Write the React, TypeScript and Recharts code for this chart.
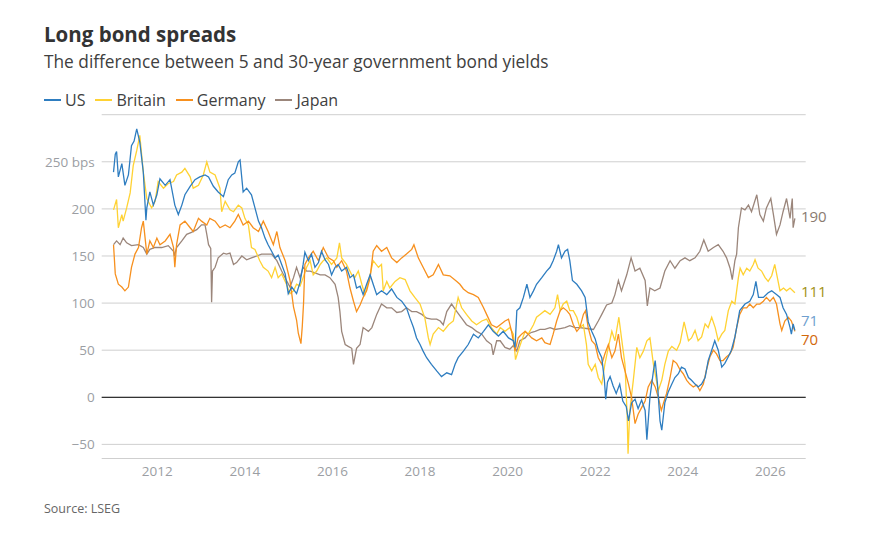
import { LineChart, Line, XAxis, YAxis, CartesianGrid, ReferenceLine } from 'recharts';

const FONT = '"Open Sans", "Noto Sans", sans-serif';

const YEAR_TICKS = [2012, 2014, 2016, 2018, 2020, 2022, 2024, 2026];
const BPS_TICKS = [-50, 0, 50, 100, 150, 200, 250];

// [year, 30y minus 5y spread in bps]
const US_SPREAD: [number, number][] = [
  [2011.0, 239], [2011.04, 258], [2011.07, 261], [2011.11, 234], [2011.19, 248], [2011.26, 225], [2011.34, 236],
  [2011.41, 267], [2011.47, 272], [2011.53, 285], [2011.6, 271], [2011.68, 239], [2011.74, 188], [2011.76, 201],
  [2011.83, 218], [2011.91, 204], [2011.99, 215], [2012.06, 232], [2012.18, 225], [2012.29, 231], [2012.4, 204],
  [2012.48, 194], [2012.56, 204], [2012.63, 215], [2012.75, 224], [2012.86, 231], [2012.97, 234], [2013.09, 236],
  [2013.17, 234], [2013.28, 224], [2013.39, 218], [2013.51, 213], [2013.62, 231], [2013.7, 236], [2013.77, 238],
  [2013.85, 250], [2013.89, 252], [2013.96, 218], [2014.04, 222], [2014.15, 215], [2014.23, 201], [2014.31, 187],
  [2014.38, 180], [2014.46, 169], [2014.53, 162], [2014.61, 155], [2014.69, 148], [2014.76, 151], [2014.84, 141],
  [2014.92, 131], [2014.99, 110], [2015.07, 117], [2015.18, 110], [2015.26, 122], [2015.33, 141], [2015.37, 154],
  [2015.45, 145], [2015.52, 152], [2015.6, 138], [2015.68, 143], [2015.75, 155], [2015.83, 146], [2015.91, 141],
  [2015.98, 130], [2016.06, 138], [2016.13, 141], [2016.21, 134], [2016.32, 138], [2016.4, 127], [2016.48, 130],
  [2016.55, 116], [2016.63, 118], [2016.7, 109], [2016.78, 120], [2016.86, 130], [2016.93, 120], [2017.01, 109],
  [2017.12, 113], [2017.24, 109], [2017.35, 115], [2017.47, 106], [2017.58, 102], [2017.69, 95], [2017.77, 84],
  [2017.85, 74], [2017.92, 63], [2018.0, 56], [2018.07, 49], [2018.15, 42], [2018.26, 35], [2018.38, 28],
  [2018.49, 22], [2018.61, 26], [2018.72, 24], [2018.8, 35], [2018.87, 42], [2018.99, 49], [2019.1, 56],
  [2019.22, 67], [2019.33, 63], [2019.45, 70], [2019.56, 77], [2019.67, 70], [2019.79, 65], [2019.9, 70],
  [2020.02, 63], [2020.13, 60], [2020.17, 53], [2020.21, 92], [2020.28, 95], [2020.36, 106], [2020.44, 120],
  [2020.51, 106], [2020.59, 113], [2020.66, 120], [2020.78, 127], [2020.89, 134], [2020.97, 138], [2021.04, 145],
  [2021.12, 155], [2021.16, 162], [2021.23, 148], [2021.31, 155], [2021.37, 157], [2021.42, 145], [2021.48, 124],
  [2021.58, 120], [2021.69, 113], [2021.77, 106], [2021.84, 80], [2021.92, 70], [2022.0, 62], [2022.07, 50],
  [2022.15, 42], [2022.21, 18], [2022.24, -2], [2022.28, 16], [2022.34, 22], [2022.41, 12], [2022.48, 4],
  [2022.56, 14], [2022.63, -4], [2022.71, -10], [2022.76, -25], [2022.83, -6], [2022.91, -2], [2022.98, -12],
  [2023.06, -3], [2023.14, -14], [2023.18, -45], [2023.25, 0], [2023.33, 28], [2023.37, 39], [2023.42, 15],
  [2023.48, -25], [2023.52, -35], [2023.59, -6], [2023.67, 6], [2023.75, 14], [2023.82, 21], [2023.9, 25],
  [2023.97, 32], [2024.05, 30], [2024.13, 21], [2024.2, 18], [2024.28, 14], [2024.35, 11], [2024.43, 14],
  [2024.51, 21], [2024.58, 39], [2024.66, 50], [2024.73, 60], [2024.81, 50], [2024.89, 32], [2024.96, 36],
  [2025.04, 43], [2025.11, 50], [2025.19, 64], [2025.23, 74], [2025.3, 92], [2025.42, 99], [2025.53, 102],
  [2025.61, 109], [2025.67, 123], [2025.73, 106], [2025.84, 106], [2025.95, 111], [2026.03, 113], [2026.14, 109],
  [2026.22, 106], [2026.29, 95], [2026.37, 88], [2026.45, 74], [2026.48, 67], [2026.52, 78], [2026.56, 71],
];

const BRITAIN_SPREAD: [number, number][] = [
  [2011.0, 199], [2011.07, 210], [2011.11, 180], [2011.19, 194], [2011.22, 187], [2011.3, 201], [2011.38, 217],
  [2011.45, 246], [2011.53, 262], [2011.6, 278], [2011.68, 239], [2011.76, 211], [2011.87, 201], [2011.95, 208],
  [2012.02, 229], [2012.14, 222], [2012.25, 227], [2012.37, 229], [2012.44, 236], [2012.56, 239], [2012.63, 243],
  [2012.75, 234], [2012.82, 222], [2012.94, 225], [2013.05, 236], [2013.13, 250], [2013.2, 239], [2013.32, 236],
  [2013.43, 222], [2013.47, 197], [2013.55, 208], [2013.66, 199], [2013.74, 197], [2013.85, 204], [2013.93, 201],
  [2014.0, 190], [2014.08, 183], [2014.15, 159], [2014.23, 157], [2014.34, 145], [2014.42, 138], [2014.53, 134],
  [2014.61, 127], [2014.69, 138], [2014.76, 127], [2014.84, 131], [2014.95, 120], [2015.03, 110], [2015.11, 113],
  [2015.18, 120], [2015.26, 118], [2015.33, 127], [2015.41, 138], [2015.49, 145], [2015.56, 130], [2015.64, 134],
  [2015.72, 141], [2015.79, 145], [2015.87, 148], [2015.98, 141], [2016.1, 148], [2016.16, 164], [2016.21, 148],
  [2016.32, 141], [2016.44, 130], [2016.51, 127], [2016.59, 134], [2016.67, 120], [2016.74, 109], [2016.86, 130],
  [2016.93, 145], [2017.05, 138], [2017.12, 141], [2017.16, 113], [2017.24, 123], [2017.31, 116], [2017.43, 123],
  [2017.54, 127], [2017.66, 125], [2017.77, 113], [2017.88, 106], [2018.0, 99], [2018.11, 84], [2018.19, 63],
  [2018.23, 56], [2018.3, 67], [2018.42, 74], [2018.53, 70], [2018.65, 77], [2018.76, 81], [2018.87, 106],
  [2018.95, 95], [2019.06, 88], [2019.18, 81], [2019.29, 77], [2019.41, 81], [2019.52, 83], [2019.63, 74],
  [2019.75, 67], [2019.83, 74], [2019.94, 70], [2020.05, 74], [2020.13, 67], [2020.18, 40], [2020.24, 49],
  [2020.32, 60], [2020.4, 70], [2020.47, 67], [2020.59, 77], [2020.66, 85], [2020.74, 88], [2020.85, 92],
  [2020.97, 88], [2021.08, 95], [2021.14, 109], [2021.2, 92], [2021.27, 99], [2021.35, 102], [2021.42, 92],
  [2021.5, 92], [2021.58, 85], [2021.65, 74], [2021.73, 77], [2021.8, 56], [2021.84, 35], [2021.92, 28],
  [2022.0, 35], [2022.07, 21], [2022.15, 14], [2022.22, 35], [2022.3, 53], [2022.38, 70], [2022.45, 60],
  [2022.54, 85], [2022.6, 63], [2022.68, 35], [2022.73, -20], [2022.75, -60], [2022.79, -14], [2022.87, 18],
  [2022.95, 53], [2023.02, 42], [2023.1, 49], [2023.18, 60], [2023.25, 63], [2023.33, 35], [2023.44, 7],
  [2023.52, 18], [2023.59, 35], [2023.67, 49], [2023.75, 54], [2023.86, 50], [2023.94, 58], [2024.03, 80],
  [2024.13, 60], [2024.2, 63], [2024.28, 71], [2024.35, 60], [2024.43, 64], [2024.51, 78], [2024.58, 74],
  [2024.66, 85], [2024.74, 74], [2024.81, 60], [2024.89, 67], [2024.96, 71], [2025.04, 92], [2025.12, 102],
  [2025.19, 99], [2025.27, 127], [2025.31, 137], [2025.38, 130], [2025.46, 137], [2025.53, 134], [2025.61, 141],
  [2025.65, 146], [2025.72, 137], [2025.8, 134], [2025.88, 127], [2025.95, 123], [2026.03, 129], [2026.1, 141],
  [2026.16, 127], [2026.22, 113], [2026.3, 116], [2026.37, 113], [2026.45, 116], [2026.56, 111],
];

const GERMANY_SPREAD: [number, number][] = [
  [2011.0, 162], [2011.04, 131], [2011.11, 120], [2011.19, 117], [2011.26, 113], [2011.34, 117], [2011.41, 138],
  [2011.49, 152], [2011.57, 159], [2011.64, 180], [2011.68, 187], [2011.76, 152], [2011.83, 166], [2011.91, 159],
  [2011.99, 169], [2012.06, 162], [2012.18, 166], [2012.29, 173], [2012.37, 159], [2012.4, 138], [2012.44, 162],
  [2012.52, 183], [2012.63, 187], [2012.75, 180], [2012.82, 176], [2012.94, 190], [2013.01, 187], [2013.13, 183],
  [2013.2, 190], [2013.32, 187], [2013.43, 180], [2013.55, 183], [2013.66, 180], [2013.77, 187], [2013.85, 194],
  [2013.96, 183], [2014.08, 187], [2014.19, 180], [2014.31, 176], [2014.42, 187], [2014.53, 176], [2014.65, 162],
  [2014.73, 176], [2014.8, 159], [2014.92, 145], [2015.03, 124], [2015.11, 96], [2015.18, 82], [2015.22, 68],
  [2015.28, 57], [2015.31, 75], [2015.34, 100], [2015.37, 141], [2015.45, 148], [2015.56, 155], [2015.68, 145],
  [2015.79, 159], [2015.91, 148], [2016.02, 145], [2016.1, 138], [2016.21, 145], [2016.32, 134], [2016.4, 116],
  [2016.48, 102], [2016.55, 91], [2016.63, 98], [2016.7, 106], [2016.78, 113], [2016.86, 127], [2016.93, 155],
  [2017.01, 161], [2017.12, 155], [2017.24, 159], [2017.35, 148], [2017.47, 143], [2017.58, 148], [2017.69, 152],
  [2017.81, 157], [2017.86, 162], [2017.96, 148], [2018.07, 138], [2018.19, 127], [2018.3, 130], [2018.42, 141],
  [2018.53, 130], [2018.68, 129], [2018.84, 123], [2018.91, 120], [2018.99, 115], [2019.1, 111], [2019.22, 109],
  [2019.33, 106], [2019.45, 95], [2019.52, 88], [2019.63, 77], [2019.75, 74], [2019.83, 77], [2019.94, 81],
  [2020.02, 83], [2020.09, 70], [2020.17, 49], [2020.24, 63], [2020.32, 67], [2020.4, 70], [2020.47, 67],
  [2020.55, 63], [2020.66, 60], [2020.78, 63], [2020.85, 58], [2020.97, 56], [2021.04, 67], [2021.12, 81],
  [2021.2, 92], [2021.27, 95], [2021.35, 92], [2021.42, 88], [2021.5, 77], [2021.58, 70], [2021.65, 74],
  [2021.73, 88], [2021.78, 92], [2021.84, 74], [2021.92, 60], [2022.0, 56], [2022.07, 42], [2022.15, 35],
  [2022.22, 46], [2022.3, 56], [2022.38, 42], [2022.45, 49], [2022.53, 67], [2022.6, 42], [2022.68, 28],
  [2022.76, 14], [2022.83, 0], [2022.91, -28], [2022.98, -18], [2023.06, -11], [2023.14, -4], [2023.21, 11],
  [2023.29, 18], [2023.37, 11], [2023.44, 0], [2023.51, -14], [2023.56, -6], [2023.63, 4], [2023.71, 21],
  [2023.78, 39], [2023.86, 36], [2023.94, 29], [2024.01, 25], [2024.09, 18], [2024.16, 14], [2024.24, 11],
  [2024.32, 13], [2024.39, 7], [2024.47, 14], [2024.54, 29], [2024.62, 43], [2024.7, 50], [2024.77, 46],
  [2024.85, 39], [2024.92, 39], [2025.0, 43], [2025.08, 46], [2025.15, 53], [2025.23, 74], [2025.3, 88],
  [2025.38, 95], [2025.46, 95], [2025.53, 99], [2025.61, 95], [2025.69, 99], [2025.76, 99], [2025.84, 102],
  [2025.91, 106], [2025.99, 102], [2026.07, 106], [2026.14, 99], [2026.22, 78], [2026.26, 71], [2026.33, 81],
  [2026.41, 85], [2026.48, 81], [2026.56, 70],
];

const JAPAN_SPREAD: [number, number][] = [
  [2011.0, 162], [2011.07, 166], [2011.15, 162], [2011.22, 169], [2011.3, 164], [2011.41, 161], [2011.57, 162],
  [2011.68, 159], [2011.76, 152], [2011.83, 157], [2011.95, 159], [2012.1, 159], [2012.25, 161], [2012.37, 155],
  [2012.39, 150], [2012.44, 159], [2012.56, 166], [2012.67, 173], [2012.78, 175], [2012.9, 178], [2013.01, 183],
  [2013.09, 183], [2013.13, 173], [2013.17, 162], [2013.22, 158], [2013.24, 101], [2013.26, 134], [2013.32, 138],
  [2013.39, 148], [2013.51, 153], [2013.58, 152], [2013.66, 153], [2013.74, 141], [2013.81, 143], [2013.93, 150],
  [2014.04, 146], [2014.15, 148], [2014.27, 150], [2014.38, 152], [2014.5, 152], [2014.61, 152], [2014.73, 145],
  [2014.84, 134], [2014.95, 124], [2015.03, 117], [2015.11, 127], [2015.18, 138], [2015.26, 127], [2015.33, 138],
  [2015.41, 134], [2015.49, 134], [2015.6, 132], [2015.72, 130], [2015.83, 130], [2015.94, 127], [2016.06, 120],
  [2016.13, 106], [2016.17, 91], [2016.21, 70], [2016.29, 56], [2016.36, 54], [2016.44, 52], [2016.48, 35],
  [2016.55, 52], [2016.63, 56], [2016.7, 74], [2016.82, 70], [2016.9, 74], [2017.01, 88], [2017.12, 99],
  [2017.24, 95], [2017.35, 95], [2017.47, 90], [2017.58, 91], [2017.69, 95], [2017.81, 91], [2017.92, 91],
  [2018.04, 88], [2018.15, 84], [2018.26, 83], [2018.38, 83], [2018.46, 81], [2018.53, 77], [2018.61, 91],
  [2018.72, 99], [2018.84, 91], [2018.95, 84], [2019.06, 77], [2019.18, 74], [2019.29, 70], [2019.41, 67],
  [2019.52, 60], [2019.63, 56], [2019.67, 45], [2019.75, 60], [2019.83, 60], [2019.94, 53], [2020.05, 51],
  [2020.13, 55], [2020.21, 49], [2020.28, 60], [2020.4, 63], [2020.47, 67], [2020.55, 69], [2020.63, 70],
  [2020.74, 72], [2020.85, 72], [2020.97, 74], [2021.08, 72], [2021.2, 73], [2021.31, 74], [2021.42, 76],
  [2021.54, 74], [2021.65, 74], [2021.8, 73], [2021.96, 72], [2022.07, 81], [2022.15, 88], [2022.26, 98],
  [2022.38, 100], [2022.45, 109], [2022.53, 124], [2022.6, 113], [2022.72, 130], [2022.82, 148], [2022.91, 134],
  [2023.02, 137], [2023.14, 124], [2023.19, 97], [2023.25, 116], [2023.36, 113], [2023.48, 116], [2023.59, 134],
  [2023.71, 145], [2023.82, 137], [2023.94, 145], [2024.05, 148], [2024.16, 145], [2024.28, 148], [2024.39, 155],
  [2024.48, 167], [2024.58, 155], [2024.7, 159], [2024.81, 162], [2024.92, 155], [2025.0, 148], [2025.08, 137],
  [2025.13, 125], [2025.19, 145], [2025.23, 152], [2025.27, 180], [2025.34, 201], [2025.42, 199], [2025.5, 204],
  [2025.57, 197], [2025.69, 215], [2025.76, 194], [2025.84, 187], [2025.91, 201], [2026.01, 211], [2026.07, 194],
  [2026.14, 173], [2026.22, 183], [2026.29, 197], [2026.37, 211], [2026.45, 190], [2026.5, 211], [2026.52, 180],
  [2026.56, 190],
];

const toPoints = (rows: [number, number][]) => rows.map(([t, v]) => ({ t, v }));

// drawn back to front
const SERIES = [
  { name: 'Japan', rows: JAPAN_SPREAD, color: '#9b867b', labelColor: '#8a7b70', labelDy: -2 },
  { name: 'Britain', rows: BRITAIN_SPREAD, color: '#ffd233', labelColor: '#a39214', labelDy: -2 },
  { name: 'Germany', rows: GERMANY_SPREAD, color: '#f7901e', labelColor: '#d2690c', labelDy: 8 },
  { name: 'US', rows: US_SPREAD, color: '#2e7dc0', labelColor: '#6f9fcf', labelDy: -10 },
];

const LEGEND = ['US', 'Britain', 'Germany', 'Japan'];

function endLabel(color: string, dy: number, lastIndex: number) {
  return (props: any) => {
    const { cx, cy, index, payload } = props;
    if (index !== lastIndex) return <g key={`dot-${index}`} />;
    return (
      <text
        key={`dot-${index}`}
        x={cx + 6}
        y={cy + dy}
        fill={color}
        fontSize={15}
        fontFamily={FONT}
        dominantBaseline="central"
      >
        {Math.round(payload.v)}
      </text>
    );
  };
}

export default function App() {
  const colorOf = (name: string) => SERIES.find((s) => s.name === name)!.color;

  return (
    <div style={{ position: 'relative', width: 865, height: 517, fontFamily: FONT, background: '#fff' }}>
      <div style={{ position: 'absolute', left: 36, top: 12, fontSize: 20.5, fontWeight: 700, color: '#333' }}>
        Long bond spreads
      </div>
      <div style={{ position: 'absolute', left: 36, top: 42, fontSize: 17.3, color: '#404040' }}>
        The difference between 5 and 30-year government bond yields
      </div>
      <div style={{ position: 'absolute', left: 36, top: 81, display: 'flex', fontSize: 16, color: '#404040' }}>
        {LEGEND.map((name) => (
          <div key={name} style={{ display: 'flex', alignItems: 'center', marginRight: 10 }}>
            <span style={{ display: 'inline-block', width: 17, height: 1.5, background: colorOf(name), marginRight: 4 }} />
            <span>{name}</span>
          </div>
        ))}
      </div>

      <LineChart width={865} height={500} margin={{ top: 106.7, right: 67.3, left: 0, bottom: 19.5 }}>
        <CartesianGrid vertical={false} stroke="#cfcfcf" />
        <XAxis
          type="number"
          dataKey="t"
          domain={[2010.73, 2026.807]}
          ticks={YEAR_TICKS}
          axisLine={false}
          tickLine={false}
          tickSize={0}
          tickMargin={7.5}
          height={30}
          tick={{ fill: '#9b9ea3', fontSize: 13.5, fontFamily: FONT }}
        />
        <YAxis
          type="number"
          domain={[-65, 300]}
          ticks={BPS_TICKS}
          axisLine={false}
          tickLine={false}
          tickSize={0}
          tickMargin={7}
          width={93.7}
          tick={{ fill: '#9b9ea3', fontSize: 13.5, fontFamily: FONT }}
          tickFormatter={(v: number) => (v === 250 ? '250 bps' : v < 0 ? `\u2212${Math.abs(v)}` : String(v))}
        />
        <ReferenceLine y={0} stroke="#333" strokeWidth={1.2} />
        {SERIES.map((s) => (
          <Line
            key={s.name}
            name={s.name}
            data={toPoints(s.rows)}
            dataKey="v"
            type="linear"
            stroke={s.color}
            strokeWidth={1.3}
            dot={endLabel(s.labelColor, s.labelDy, s.rows.length - 1)}
            activeDot={false}
            isAnimationActive={false}
          />
        ))}
      </LineChart>

      <div style={{ position: 'absolute', left: 36, top: 492, fontSize: 12.5, color: '#666' }}>Source: LSEG</div>
    </div>
  );
}
